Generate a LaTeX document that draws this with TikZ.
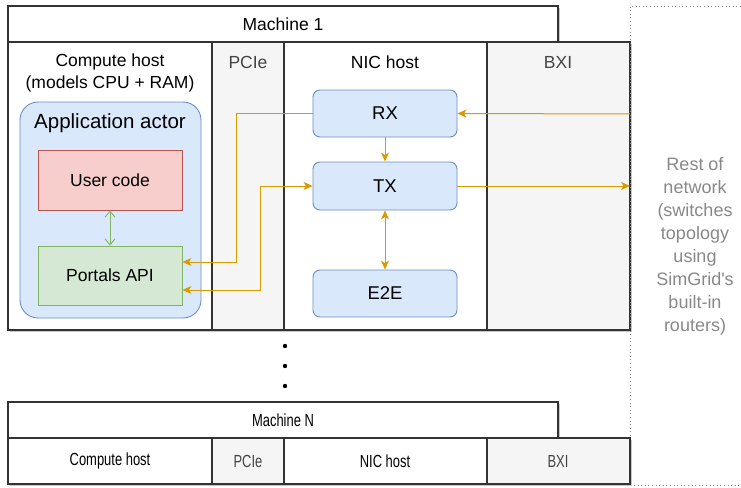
\documentclass[tikz,border=0pt]{standalone}
\usepackage{fontspec}
\usepackage{graphicx}
\setmainfont{Liberation Sans}
\usetikzlibrary{arrows.meta}

\definecolor{frameline}{HTML}{333333}
\definecolor{busgray}{HTML}{F5F5F5}
\definecolor{bustext}{HTML}{444444}
\definecolor{actorfill}{HTML}{DAE8FC}
\definecolor{actorline}{HTML}{6C8EBF}
\definecolor{userfill}{HTML}{F8CECC}
\definecolor{userline}{HTML}{B85450}
\definecolor{apifill}{HTML}{D5E8D4}
\definecolor{apiline}{HTML}{82B366}
\definecolor{flowcol}{HTML}{D79B00}
\definecolor{notecol}{HTML}{888888}

\newcommand{\narrowtxt}[1]{\scalebox{0.74}[1]{#1}}

\tikzset{
  frame/.style={draw=frameline, line width=1.1pt},
  bus/.style={frame, fill=busgray},
  shade/.style={fill=black!22},
  txt/.style={inner sep=0pt, font=\fontsize{17.5}{22}\selectfont},
  bustxt/.style={txt, text=bustext},
  nicbox/.style={draw=actorline, fill=actorfill, rounded corners=7pt, line width=0.9pt,
    minimum width=144pt, inner sep=0pt, font=\fontsize{18.5}{22}\selectfont},
  flow/.style={draw=flowcol, line width=1pt, -{Stealth[length=9pt,width=8pt,inset=2.5pt]}},
  flowboth/.style={flow, {Stealth[length=9pt,width=8pt,inset=2.5pt]}-{Stealth[length=9pt,width=8pt,inset=2.5pt]}},
}

\begin{document}
\begin{tikzpicture}[x=1pt, y=-1pt]
  \useasboundingbox (0,0) rectangle (741,487);

  % machine 1
  \begin{scope}[shift={(2,2)}]
    \fill[shade] (8,6) rectangle (558,42);
    \fill[shade] (8,42) rectangle (630,330);
  \end{scope}
  \draw[frame, fill=white] (8,6) rectangle (558,42);
  \draw[frame, fill=white] (8,42) rectangle (630,330);
  \draw[bus] (212,42) rectangle (284,330);
  \draw[bus] (487,42) rectangle (630,330);
  \node[txt] (m1) at (283,24) {Machine 1};
  \node[txt, align=center] (host1) at (110,73) {Compute host\\(models CPU + RAM)};
  \node[bustxt] (pcie1) at (248,62) {PCIe};
  \node[txt] (nic1) at (385,62) {NIC host};
  \node[bustxt] (bxi1) at (558,62) {BXI};

  % application actor
  \draw[draw=actorline, fill=actorfill, line width=0.9pt, rounded corners=18pt] (20,102) rectangle (201,318);
  \node[inner sep=0pt, font=\fontsize{20.5}{24}\selectfont] (actor) at (110,123) {Application actor};
  \node[draw=userline, fill=userfill, line width=0.9pt, minimum width=144pt, minimum height=60pt,
    inner sep=0pt, font=\fontsize{17.5}{20}\selectfont] (user) at (110,180) {User code};
  \node[draw=apiline, fill=apifill, line width=0.9pt, minimum width=144pt, minimum height=59pt,
    inner sep=0pt, font=\fontsize{17.5}{20}\selectfont] (portals) at (110,275.5) {Portals API};
  \draw[draw=apiline, line width=0.9pt, {Straight Barb[length=6pt,width=10pt]}-{Straight Barb[length=6pt,width=10pt]}]
    (user.south) -- (portals.north);

  % NIC host
  \node[nicbox, minimum height=47pt] (rx) at (385,113.5) {RX};
  \node[nicbox, minimum height=48pt] (tx) at (385,186) {TX};
  \node[nicbox, minimum height=47pt] (e2e) at (385,293.5) {E2E};

  \coordinate (netin) at (630,114);
  \coordinate (netout) at (630,186);
  \coordinate (rxbend) at (236,113.5);
  \coordinate (txbend) at (260,186);
  \draw[flow] (netin) -- (rx.east);
  \draw[flow] (rx.west) -- (rxbend) |- ([yshift=13.5pt]portals.east);
  \draw[flowboth] ([yshift=-14.5pt]portals.east) -| (txbend) -- (tx.west);
  \draw[flow] (rx.south) -- (tx.north);
  \draw[flowboth] (tx.south) -- (e2e.north);
  \draw[flow] (tx.east) -- (netout);

  % rest of network
  \draw[notecol, line width=0.8pt, dash pattern=on 1pt off 2.6pt] (741,6) -- (630,6) -- (630,485) -- (741,485);
  \node[inner sep=0pt, align=center, text=notecol, font=\fontsize{18}{23}\selectfont] (net) at (695,246)
    {Rest of\\network\\(switches\\topology\\using\\SimGrid\textquotesingle s\\built-in\\routers)};

  % dots
  \foreach \y in {346,366,386}
    \fill (285,\y) circle (2.2pt);

  % machine N
  \begin{scope}[shift={(2,2)}]
    \fill[shade] (8,402) rectangle (558,438);
    \fill[shade] (8,438) rectangle (630,484);
  \end{scope}
  \draw[frame, fill=white] (8,402) rectangle (558,438);
  \draw[frame, fill=white] (8,438) rectangle (630,484);
  \draw[bus] (212,438) rectangle (284,484);
  \draw[bus] (487,438) rectangle (630,484);
  \node[txt] (mN) at (283,420) {\narrowtxt{Machine N}};
  \node[txt] (hostN) at (110,461) {\narrowtxt{Compute host}};
  \node[bustxt] (pcieN) at (248,461) {\narrowtxt{PCIe}};
  \node[txt] (nicN) at (385,461) {\narrowtxt{NIC host}};
  \node[bustxt] (bxiN) at (558,461) {\narrowtxt{BXI}};
\end{tikzpicture}
\end{document}
